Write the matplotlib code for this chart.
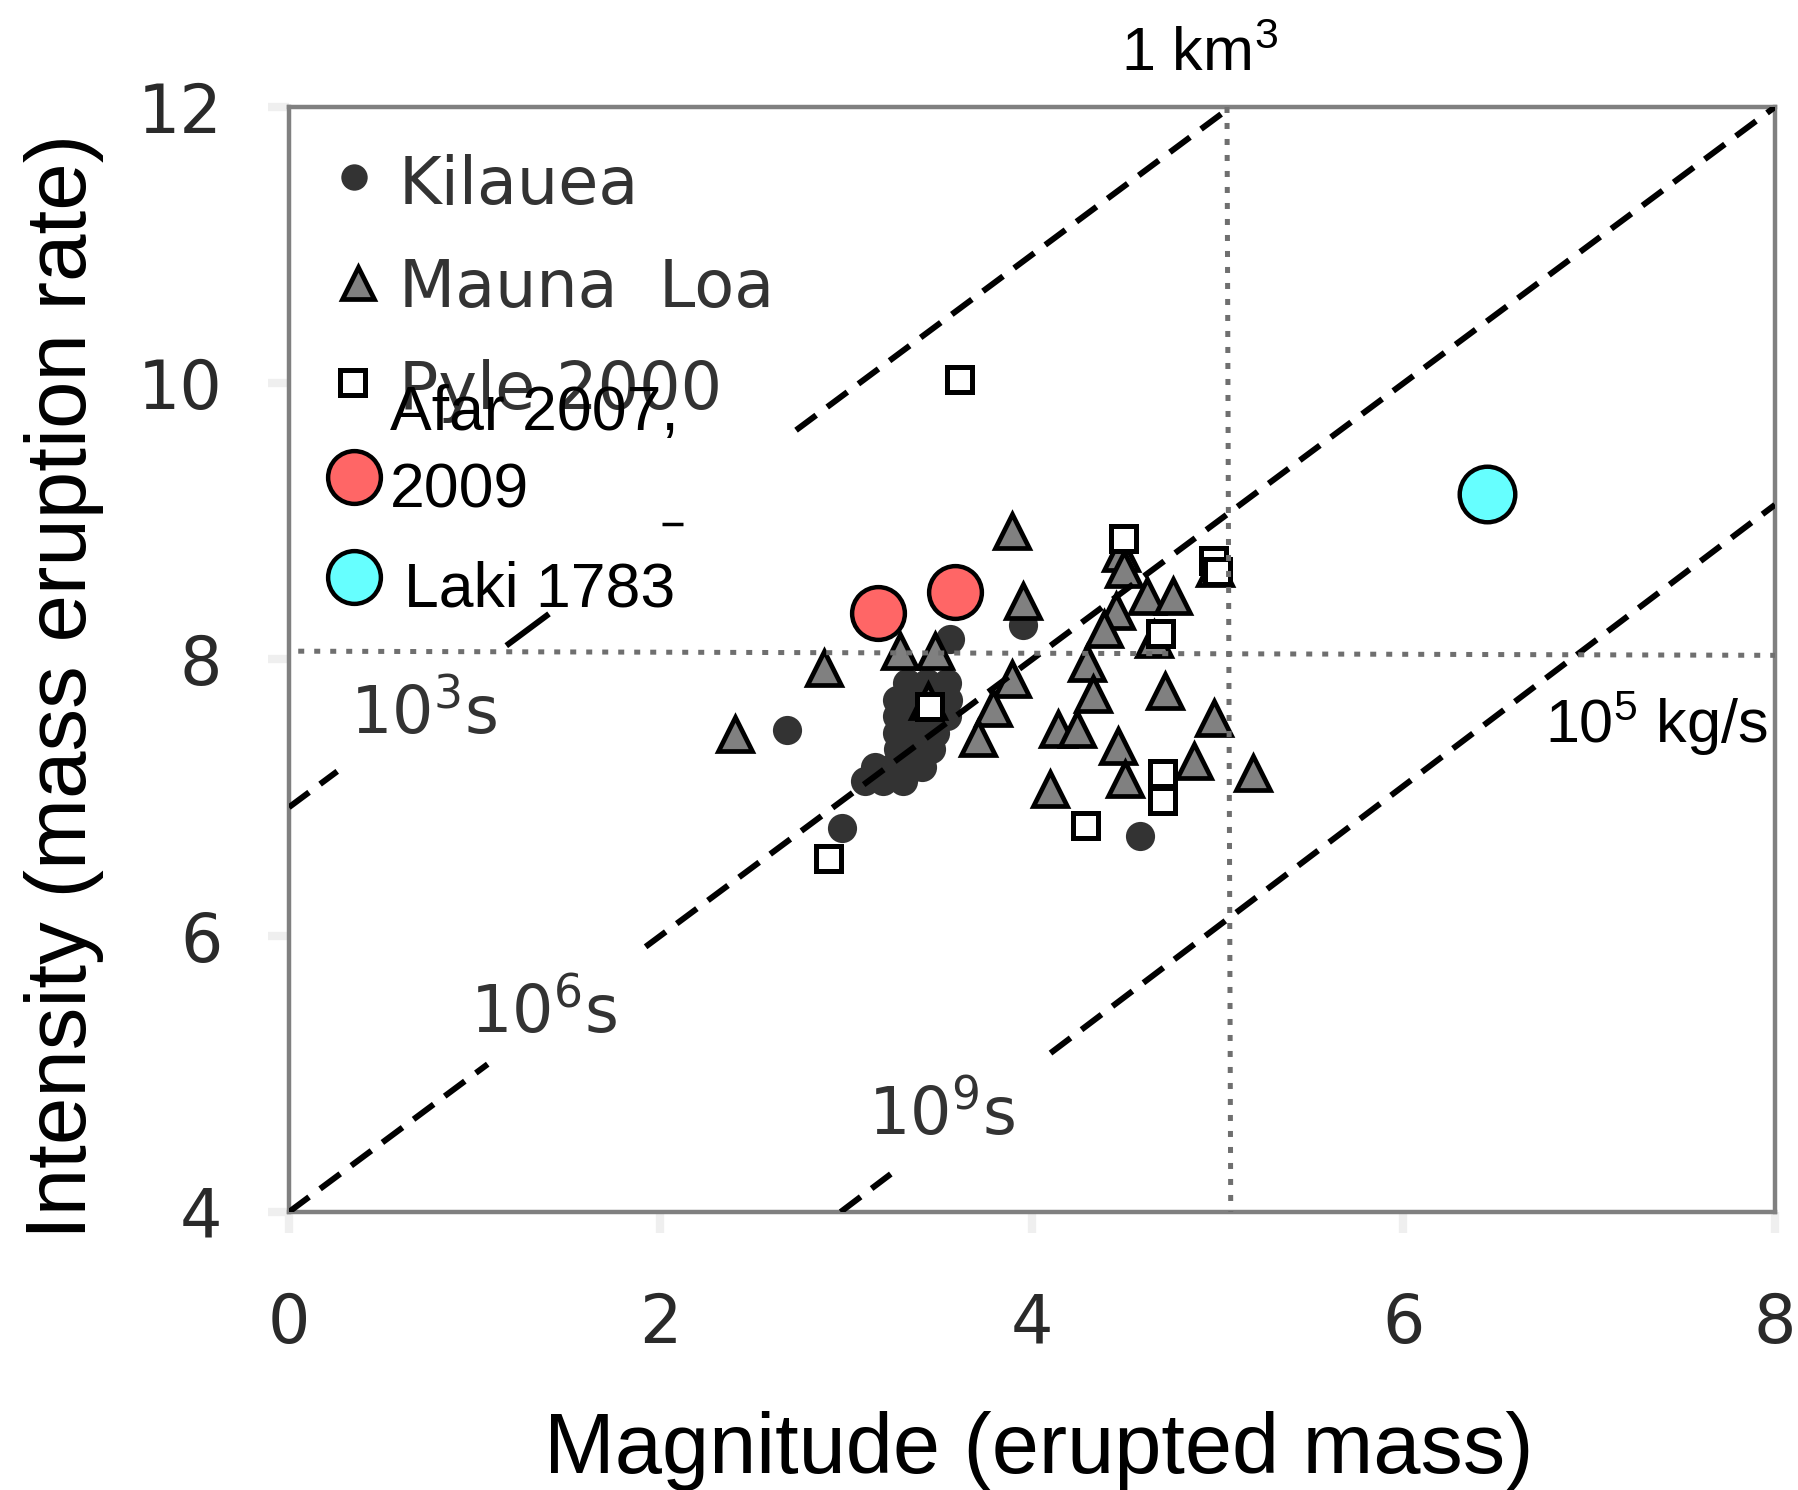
import matplotlib
matplotlib.use("Agg")
import matplotlib.pyplot as plt

plt.rcParams['mathtext.fontset'] = 'custom'
plt.rcParams['mathtext.rm'] = 'Liberation Sans'
plt.rcParams['mathtext.it'] = 'Liberation Sans:italic'
plt.rcParams['mathtext.bf'] = 'Liberation Sans:bold'

# ---------------- data ----------------
kilauea_x = [2.68, 2.98, 4.58, 3.56, 3.95,
             3.325, 3.433, 3.540,
             3.271, 3.379, 3.486, 3.549,
             3.271, 3.379, 3.486, 3.540,
             3.271, 3.379, 3.477,
             3.280, 3.379, 3.459,
             3.154, 3.253, 3.361, 3.406,
             3.101, 3.199, 3.307]
kilauea_y = [7.49, 6.78, 6.72, 8.15, 8.25,
             7.83, 7.83, 7.83,
             7.71, 7.71, 7.71, 7.71,
             7.59, 7.59, 7.59, 7.59,
             7.47, 7.47, 7.47,
             7.35, 7.35, 7.35,
             7.22, 7.22, 7.22, 7.22,
             7.12, 7.12, 7.12]

maunaloa_x = [2.40, 2.88, 3.29, 3.48, 3.89, 3.95, 3.89, 3.79, 3.71, 3.44,
              4.477, 4.495, 4.617, 4.761, 4.452, 4.389, 4.657, 4.298, 4.330,
              4.716, 4.980, 4.142, 4.240, 4.465, 4.501, 4.872, 5.188, 4.097, 4.985]
maunaloa_y = [7.46, 7.94, 8.06, 8.06, 8.93, 8.42, 7.86, 7.65, 7.43, 7.70,
              8.774, 8.653, 8.460, 8.460, 8.351, 8.219, 8.146, 7.977, 7.748,
              7.772, 7.579, 7.495, 7.495, 7.374, 7.133, 7.266, 7.181, 7.060, 8.660]

pyle_x = [2.90, 3.605, 3.447, 4.492, 4.976, 4.995, 4.689, 4.698, 4.698, 4.285]
pyle_y = [6.56, 10.03, 7.664, 8.88, 8.72, 8.64, 8.19, 7.18, 6.98, 6.80]

afar_x = [3.17, 3.585]
afar_y = [8.34, 8.49]
laki_x = [6.45]
laki_y = [9.20]

# residence-time lines: visible dashed pieces (x ranges) and line end points
line_1e3_x = [(0.0, 0.26), (2.73, 5.07)]
line_1e3_solid = [(1.17, 1.40)]
line_1e3_ends = [(0.0, 6.93), (5.07, 12.0)]
line_1e6_x = [(0.0, 1.07), (1.92, 8.0)]
line_1e6_ends = [(0.0, 4.0), (8.0, 12.0)]
line_1e9_x = [(2.97, 3.24), (4.10, 8.0)]
line_1e9_ends = [(2.97, 4.0), (8.0, 9.12)]
stub_x = [2.01, 2.12]
stub_y = [8.98, 8.98]

hline_y = [8.06, 8.03]
vline_x = [5.05, 5.07]

xticks = [0, 2, 4, 6, 8]
yticks = [4, 6, 8, 10, 12]

# ---------------- figure ----------------
fig = plt.figure(figsize=(17.98, 14.90), dpi=100)
ax = fig.add_axes([0.1607, 0.1866, 0.9872 - 0.1607, 0.9282 - 0.1866])
ax.set_xlim(0, 8)
ax.set_ylim(4, 12)

for s in ax.spines.values():
    s.set_color('#808080')
    s.set_linewidth(3.2)

ax.set_xticks(xticks)
ax.set_yticks(yticks)
ax.set_xticklabels([str(v) for v in xticks])
ax.set_yticklabels([str(v) for v in yticks])
ax.tick_params(axis='both', direction='out', length=15, width=6, color='#efefef',
               labelsize=48, labelcolor='#2a2a2a')
ax.tick_params(axis='x', pad=42)
ax.tick_params(axis='y', pad=33)
for lab in ax.get_xticklabels() + ax.get_yticklabels():
    lab.set_family('DejaVu Sans')

LW = 4.3


def seg_pieces(pieces, ends, dashed=True):
    (x0, y0), (x1, y1) = ends
    k = (y1 - y0) / (x1 - x0)
    for a, b in pieces:
        kw = dict(dashes=(4.2, 2.3)) if dashed else {}
        ax.plot([a, b], [y0 + k * (a - x0), y0 + k * (b - x0)], color='black',
                lw=LW, zorder=4, solid_capstyle='butt', **kw)


seg_pieces(line_1e3_x, line_1e3_ends)
seg_pieces(line_1e3_solid, line_1e3_ends, dashed=False)
seg_pieces(line_1e6_x, line_1e6_ends)
seg_pieces(line_1e9_x, line_1e9_ends)
ax.plot(stub_x, stub_y, color='black', lw=2.5, zorder=4, solid_capstyle='butt')

# dotted reference lines
ax.plot([0.05, 8], hline_y, color='#6f6f6f', lw=3.6, dashes=(1.2, 2.0), zorder=4)
ax.plot(vline_x, [12, 4], color='#6f6f6f', lw=3.6, dashes=(1.2, 2.0), zorder=4)

# data markers
ax.plot(kilauea_x, kilauea_y, 'o', ms=21, mfc='#333333', mec='#333333', mew=0, zorder=3)
ax.plot(maunaloa_x, maunaloa_y, '^', ms=25, mfc='#808080', mec='black', mew=3.4, zorder=3)
ax.plot(pyle_x, pyle_y, 's', ms=18, mfc='white', mec='black', mew=3.6, zorder=3)

# original legend (gray text)
gray = '#333333'
ax.plot([0.35], [11.49], 'o', ms=19, mfc=gray, mec=gray, mew=0, zorder=5)
ax.plot([0.37], [10.724], '^', ms=23, mfc='#808080', mec='black', mew=3.4, zorder=5)
ax.plot([0.339], [10.01], 's', ms=18, mfc='white', mec='black', mew=3.6, zorder=5)
ax.text(0.592, 11.30, 'Kilauea', fontsize=47, color=gray, family='DejaVu Sans', zorder=5)
ax.text(0.592, 10.55, 'Mauna  Loa', fontsize=47, color=gray, family='DejaVu Sans', zorder=5)
ax.text(0.592, 9.81, 'Pyle 2000', fontsize=47, color=gray, family='DejaVu Sans', zorder=5)

# residence-time labels
ax.text(0.33, 7.46, r'10$^{3}$s', fontsize=47, color=gray, family='DejaVu Sans',
        math_fontfamily='dejavusans', zorder=5)
ax.text(0.974, 5.30, r'10$^{6}$s', fontsize=47, color=gray, family='DejaVu Sans',
        math_fontfamily='dejavusans', zorder=5)
ax.text(3.117, 4.56, r'10$^{9}$s', fontsize=47, color=gray, family='DejaVu Sans',
        math_fontfamily='dejavusans', zorder=5)

# overlay: Afar & Laki
ax.plot(afar_x, afar_y, 'o', ms=38, mfc='#ff6666', mec='black', mew=3.2, zorder=6, clip_on=False)
ax.plot(laki_x, laki_y, 'o', ms=40, mfc='#66ffff', mec='black', mew=3.2, zorder=6, clip_on=False)
ax.plot([0.35], [9.32], 'o', ms=38, mfc='#ff6666', mec='black', mew=3.2, zorder=6)
ax.plot([0.35], [8.60], 'o', ms=38, mfc='#66ffff', mec='black', mew=3.2, zorder=6)

arial = 'Liberation Sans'
ax.text(0.544, 9.662, 'Afar 2007,', fontsize=45, color='black', family=arial, zorder=7)
ax.text(0.544, 9.097, '2009', fontsize=45, color='black', family=arial, zorder=7)
ax.text(0.619, 8.380, 'Laki 1783', fontsize=45, color='black', family=arial, zorder=7)
ax.text(6.762, 7.395, r'10$^{5}$ kg/s', fontsize=44, color='black', family=arial, zorder=7)
fig.text(1121 / 1798, 1 - 71 / 1490, r'1 km$^{3}$', fontsize=44, color='black', family=arial)

# axis titles
fig.text(1039 / 1798, 1 - 1473 / 1490, 'Magnitude (erupted mass)', fontsize=61,
         family=arial, ha='center', va='baseline')
fig.text(86 / 1798, 1 - 686 / 1490, 'Intensity (mass eruption rate)', fontsize=61.5,
         family=arial, ha='center', va='baseline', rotation=90, rotation_mode='anchor')

fig.savefig('out.png', dpi=100, facecolor='white')
